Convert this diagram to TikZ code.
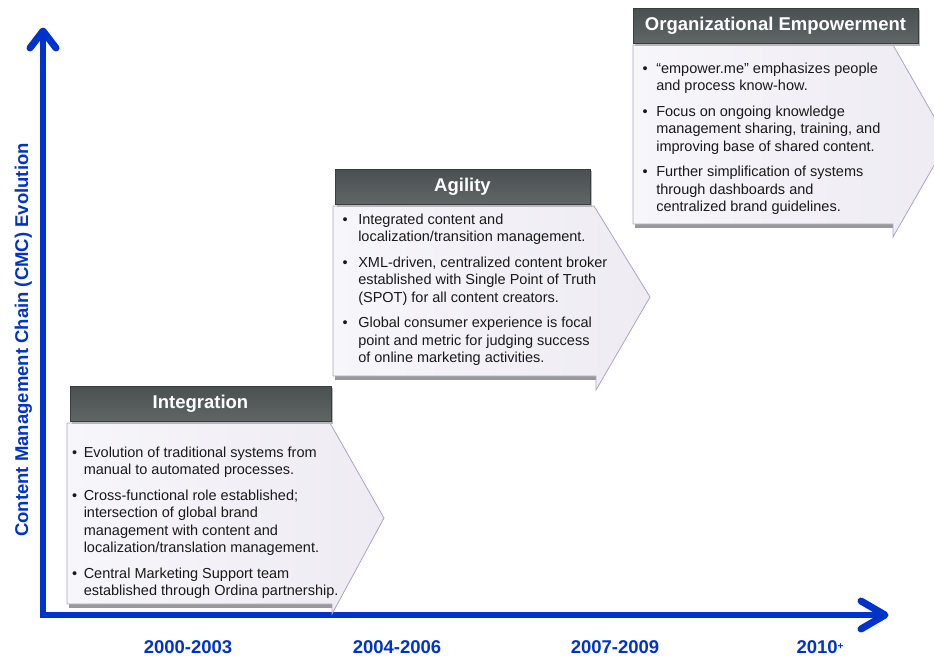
\documentclass[tikz,border=0pt]{standalone}
\usepackage{fontspec}
\setmainfont{Liberation Sans}
\definecolor{axisblue}{HTML}{0033CC}
\definecolor{bodyleft}{HTML}{F7F6FA}
\definecolor{bodyright}{HTML}{EEEBF3}
\definecolor{bodyline}{HTML}{ACA4C4}
\definecolor{headtop}{HTML}{4A4F4F}
\definecolor{headbot}{HTML}{606565}
\definecolor{headedge}{HTML}{3A3D3D}
\newcommand\bul{\textbullet}
\newcommand\stagelist[2]{\begin{tabular}{@{}l@{\hspace{#1}}l@{}}#2\end{tabular}}
\tikzset{
  axisline/.style={draw=axisblue, line width=6pt, line join=miter},
  axishead/.style={draw=axisblue, line width=7pt, line cap=round, line join=round},
  stagebody/.style={draw=bodyline, line width=0.8pt, left color=bodyleft, right color=bodyright},
  bodyshadow/.style={fill=black!40},
  headshadow/.style={fill=black!28},
  stagehead/.style={draw=headedge, line width=0.8pt, top color=headtop, bottom color=headbot},
  headtext/.style={text=white, font=\bfseries\fontsize{18.5}{22}\selectfont, inner sep=0pt},
  listtext/.style={anchor=north west, inner sep=0pt, text=black!90, font=\fontsize{14.5}{17.5}\selectfont},
  axislabel/.style={text=axisblue, font=\bfseries\fontsize{18.5}{22}\selectfont, inner sep=0pt},
}
\begin{document}
\begin{tikzpicture}[x=1pt,y=-1pt]
\useasboundingbox (0,0) rectangle (934,657);

% axes with open chevron heads
\coordinate (origin) at (43,615);
\coordinate (ytip) at (43,31);
\coordinate (xtip) at (885,615);
\draw[axisline] (43,33) -- (origin) -- (883,615);
\draw[axishead] (30,48) -- (ytip) -- (56,48);
\draw[axishead] (861,601) -- (xtip) -- (861,629);

\node[axislabel, rotate=90, anchor=base] (ylab) at (28,340) {Content Management Chain (CMC) Evolution};
\node[axislabel, anchor=base] (p1) at (188,653) {2000-2003};
\node[axislabel, anchor=base] (p2) at (397,653) {2004-2006};
\node[axislabel, anchor=base] (p3) at (615,653) {2007-2009};
\node[axislabel, anchor=base] (p4) at (820,653) {2010\raisebox{4pt}{\fontsize{10}{12}\selectfont +}};

\begin{scope}
\clip (0,0) rectangle (934,657);
% stage 1: Integration
\fill[bodyshadow] (69,604) rectangle (332,608);
\shadedraw[stagebody] (67,423) -- (330,423) -- (384,518) -- (332,614) -- (332,604) -- (67,604) -- cycle;
\fill[headshadow] (72,388) rectangle (333,424);
\shadedraw[stagehead] (70,386) rectangle (331,421);
\node[headtext] (h1) at (200.5,403.5) {Integration};

% stage 2: Agility
\fill[bodyshadow] (335,376) rectangle (596,380);
\shadedraw[stagebody] (333,206) -- (594,206) -- (650,297) -- (596,390) -- (596,376) -- (333,376) -- cycle;
\fill[headshadow] (337,171) rectangle (592,207);
\shadedraw[stagehead] (335,169) rectangle (590,204);
\node[headtext] (h2) at (462.5,186.5) {Agility};

% stage 3: Organizational Empowerment
\fill[bodyshadow] (635,224) rectangle (893,228);
\shadedraw[stagebody] (633,45) -- (893,45) -- (948,141) -- (893,237) -- (893,224) -- (633,224) -- cycle;
\fill[headshadow] (635,10) rectangle (920,46);
\shadedraw[stagehead] (633,8) rectangle (918,43);
\node[headtext] (h3) at (775.5,25.5) {Organizational Empowerment};
\end{scope}

\node[listtext] (l1) at (72,445) {\stagelist{6.5pt}{%
\bul & Evolution of traditional systems from\\
     & manual to automated processes.\\[8pt]
\bul & Cross-functional role established;\\
     & intersection of global brand\\
     & management with content and\\
     & localization/translation management.\\[8pt]
\bul & Central Marketing Support team\\
     & established through Ordina partnership.}};

\node[listtext] (l2) at (342.5,212) {\stagelist{10.5pt}{%
\bul & Integrated content and\\
     & localization/transition management.\\[8pt]
\bul & XML-driven, centralized content broker\\
     & established with Single Point of Truth\\
     & (SPOT) for all content creators.\\[8pt]
\bul & Global consumer experience is focal\\
     & point and metric for judging success\\
     & of online marketing activities.}};

\node[listtext] (l3) at (642.5,61) {\stagelist{8.5pt}{%
\bul & “empower.me” emphasizes people\\
     & and process know-how.\\[8pt]
\bul & Focus on ongoing knowledge\\
     & management sharing, training, and\\
     & improving base of shared content.\\[8pt]
\bul & Further simplification of systems\\
     & through dashboards and\\
     & centralized brand guidelines.}};
\end{tikzpicture}
\end{document}
